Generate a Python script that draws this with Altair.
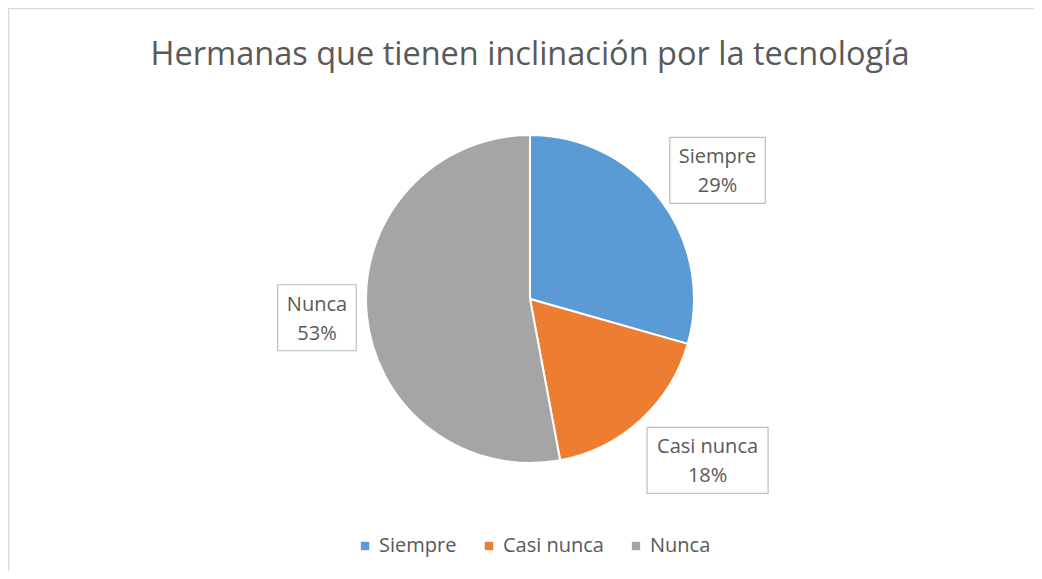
import altair as alt
import pandas as pd

categories = ["Siempre", "Casi nunca", "Nunca"]
counts = [5, 3, 9]
colors = ["#5B9BD5", "#ED7D31", "#A5A5A5"]
title_text = "Hermanas que tienen inclinación por la tecnología"

df = pd.DataFrame({"idx": list(range(len(categories))), "cat": categories, "count": counts})

W, H = 1026, 563
CX, CY, R = 522, 291, 164
LR = 225
FONT = "Open Sans"
TXT = "#595959"

xs = alt.Scale(domain=[0, W], range=[0, W], nice=False, zero=False)
ys = alt.Scale(domain=[0, H], range=[0, H], nice=False, zero=False)

base = alt.Chart(df)

arcs = base.mark_arc(outerRadius=R, stroke="white", strokeWidth=2).encode(
    theta=alt.Theta("count:Q", stack=True),
    order=alt.Order("idx:Q"),
    color=alt.Color(
        "cat:N",
        sort=categories,
        scale=alt.Scale(domain=categories, range=colors),
        legend=alt.Legend(
            orient="none", legendX=347, legendY=528, direction="horizontal",
            title=None, symbolType="square", symbolSize=70, symbolStrokeWidth=0,
            labelFontSize=20, labelColor=TXT, labelFont=FONT, columnPadding=22,
        ),
    ),
    x=alt.value(CX),
    y=alt.value(CY),
)

labels_base = base.transform_joinaggregate(total="sum(count)").transform_window(
    cum="sum(count)", sort=[alt.SortField("idx")], frame=[None, 0]
).transform_calculate(
    mid="(datum.cum - datum.count/2)/datum.total*2*PI",
    nx="datum.idx == 0 ? 8 : (datum.idx == 1 ? 26 : 11)",
    ny="datum.idx == 0 ? 7 : (datum.idx == 1 ? -5 : -2)",
).transform_calculate(
    lx=f"{CX} + {LR}*sin(datum.mid) + datum.nx",
    ly=f"{CY} - {LR}*cos(datum.mid) + datum.ny",
    bw="8.5*length(datum.cat) + 36",
    label="datum.cat + '\\n' + format(datum.count/datum.total, '.0%')",
).transform_calculate(
    x1="datum.lx - datum.bw/2", x2="datum.lx + datum.bw/2",
    y1="datum.ly - 33", y2="datum.ly + 33",
)

boxes = labels_base.mark_rect(fill="white", stroke="#bfbfbf", strokeWidth=1.2).encode(
    x=alt.X("x1:Q", scale=xs, axis=None),
    x2="x2:Q",
    y=alt.Y("y1:Q", scale=ys, axis=None),
    y2="y2:Q",
)

texts = labels_base.mark_text(
    font=FONT, fontSize=20, color=TXT, lineBreak="\n", lineHeight=29,
    align="center", baseline="middle", dy=-13,
).encode(
    x=alt.X("lx:Q", scale=xs, axis=None),
    y=alt.Y("ly:Q", scale=ys, axis=None),
    text="label:N",
)

title = alt.Chart(pd.DataFrame({"t": [title_text]})).mark_text(
    font=FONT, fontSize=32.5, color=TXT, align="center", baseline="alphabetic",
).encode(x=alt.value(522), y=alt.value(57), text="t:N")

border_top = alt.Chart(pd.DataFrame({"a": [0]})).mark_rule(color="#d9d9d9", strokeWidth=1.5).encode(
    x=alt.value(0), x2=alt.value(W), y=alt.value(0.5)
)
border_left = alt.Chart(pd.DataFrame({"a": [0]})).mark_rule(color="#d9d9d9", strokeWidth=1.5).encode(
    x=alt.value(0.5), y=alt.value(0), y2=alt.value(H)
)

chart = alt.layer(border_top, border_left, arcs, boxes, texts, title).properties(
    width=W, height=H, padding=0, autosize=alt.AutoSizeParams(type="none"),
).configure_view(stroke=None)

chart.save("out.html", embed_options={"renderer": "svg", "actions": False})
